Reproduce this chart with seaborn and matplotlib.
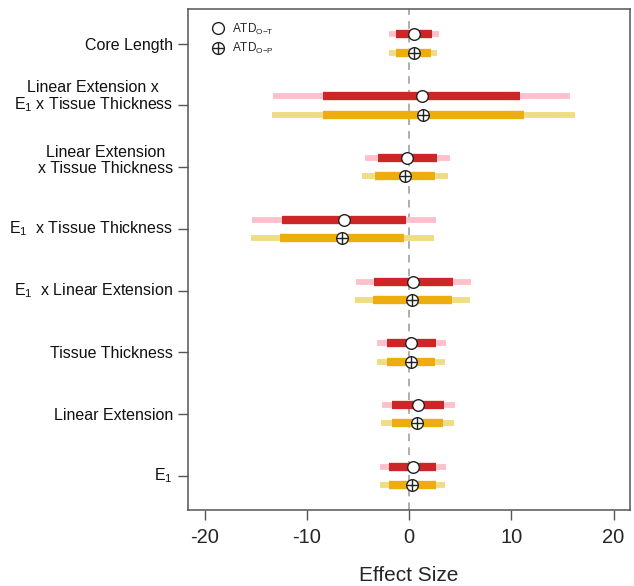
import matplotlib
matplotlib.use('Agg')
import numpy as np
import pandas as pd
import matplotlib.pyplot as plt
import seaborn as sns
from matplotlib.lines import Line2D
from matplotlib.legend_handler import HandlerTuple

# 데이터
labels = ['Core Length',
          'Linear Extension x\nE$_1$ x Tissue Thickness',
          'Linear Extension\nx Tissue Thickness',
          'E$_1$  x Tissue Thickness',
          'E$_1$  x Linear Extension',
          'Tissue Thickness',
          'Linear Extension',
          'E$_1$']

ot_est = [0.52, 1.24, -0.16, -6.34, 0.39, 0.23, 0.88, 0.39]
ot_lo_outer = [-1.95, -13.27, -4.32, -15.35, -5.2, -3.12, -2.63, -2.83]
ot_hi_outer = [2.93, 15.7, 3.97, 2.67, 6.02, 3.58, 4.46, 3.58]
ot_lo_inner = [-1.3, -8.46, -3.09, -12.42, -3.48, -2.18, -1.63, -1.92]
ot_hi_inner = [2.27, 10.83, 2.76, -0.26, 4.29, 2.6, 3.41, 2.67]

op_est = [0.46, 1.4, -0.36, -6.54, 0.33, 0.2, 0.81, 0.33]
op_lo_outer = [-1.95, -13.37, -4.59, -15.5, -5.27, -3.12, -2.7, -2.86]
op_hi_outer = [2.76, 16.2, 3.8, 2.47, 5.95, 3.51, 4.39, 3.51]
op_lo_inner = [-1.3, -8.46, -3.32, -12.6, -3.54, -2.18, -1.69, -1.95]
op_hi_inner = [2.18, 11.22, 2.54, -0.46, 4.23, 2.54, 3.32, 2.6]

# 스타일
sns.set_theme(style='white')
plt.rcParams['font.family'] = ['Liberation Sans', 'DejaVu Sans']
plt.rcParams['mathtext.fontset'] = 'custom'
plt.rcParams['mathtext.rm'] = 'Liberation Sans'
plt.rcParams['mathtext.it'] = 'Liberation Sans:italic'

rows = np.arange(len(labels))
off = 0.148
df = pd.DataFrame({
    'row': np.concatenate([rows - off, rows + off]),
    'est': ot_est + op_est,
    'lo_o': ot_lo_outer + op_lo_outer,
    'hi_o': ot_hi_outer + op_hi_outer,
    'lo_i': ot_lo_inner + op_lo_inner,
    'hi_i': ot_hi_inner + op_hi_inner,
    'grp': ['O-T'] * len(labels) + ['O-P'] * len(labels),
})
ot = df[df['grp'] == 'O-T']
op = df[df['grp'] == 'O-P']

fig = plt.figure(figsize=(6.34, 5.86), dpi=100)
ax = fig.add_axes([0.297, 0.1297, 0.6965, 0.8549])

ax.axvline(0, color='#999999', lw=1.1, ls=(0, (5, 4)), zorder=1)

# 구간 막대
ax.hlines(ot['row'], ot['lo_o'], ot['hi_o'], color='#FFC0CB', lw=4.2, zorder=2)
ax.hlines(ot['row'], ot['lo_i'], ot['hi_i'], color='#CD2626', lw=6.0, zorder=3)
ax.hlines(op['row'], op['lo_o'], op['hi_o'], color='#EEDD82', lw=4.2, zorder=2)
ax.hlines(op['row'], op['lo_i'], op['hi_i'], color='#EEAD0E', lw=6.0, zorder=3)

# 점 추정치
sns.scatterplot(data=ot, x='est', y='row', marker='o', s=70, color='white',
                edgecolor='#222222', linewidth=1.0, zorder=4, ax=ax, legend=False)
sns.scatterplot(data=op, x='est', y='row', marker='o', s=70, color='white',
                edgecolor='#222222', linewidth=1.0, zorder=4, ax=ax, legend=False)
sns.scatterplot(data=op, x='est', y='row', marker='+', s=70, color='#222222',
                linewidth=1.0, zorder=5, ax=ax, legend=False)

ax.set_xlim(-21.6, 21.6)
ax.set_ylim(7.55, -0.56)
ax.set_xticks([-20, -10, 0, 10, 20])
ax.set_xticklabels(['-20', '-10', '0', '10', '20'], fontsize=14.5)
ax.set_xlabel('Effect Size', fontsize=15, labelpad=14)
ax.set_ylabel('')

ax.set_yticks(rows)
ax.set_yticklabels([''] * len(labels))
for r, lab in zip(rows, labels):
    ax.annotate(lab, xy=(0, r), xycoords=('axes fraction', 'data'),
                xytext=(-11, -6.4), textcoords='offset points',
                ha='right', va='bottom', multialignment='center',
                linespacing=1.05, fontsize=11.5, color='#111111')

ax.tick_params(axis='both', which='both', direction='out', length=7,
               width=1.0, color='#555555', left=True, bottom=True)
ax.tick_params(axis='x', pad=6)
for s in ax.spines.values():
    s.set_color('#555555')
    s.set_linewidth(1.1)

# 범례
h_ot = Line2D([], [], marker='o', ls='none', ms=8.5, mfc='white',
              mec='#222222', mew=1.0)
h_op_c = Line2D([], [], marker='o', ls='none', ms=8.5, mfc='white',
                mec='#222222', mew=1.0)
h_op_p = Line2D([], [], marker='+', ls='none', ms=8.5, mec='#222222', mew=1.0)
ax.legend([h_ot, (h_op_c, h_op_p)],
          [r'ATD$_{\mathregular{O{-}T}}$', r'ATD$_{\mathregular{O{-}P}}$'],
          handler_map={tuple: HandlerTuple(ndivide=1)},
          loc='upper left', bbox_to_anchor=(0.014, 1.008), frameon=False,
          fontsize=8.5, handlelength=1.2, handletextpad=0.6,
          labelspacing=0.35, borderpad=0.6, borderaxespad=0.8)

fig.savefig('out.png', dpi=100)
